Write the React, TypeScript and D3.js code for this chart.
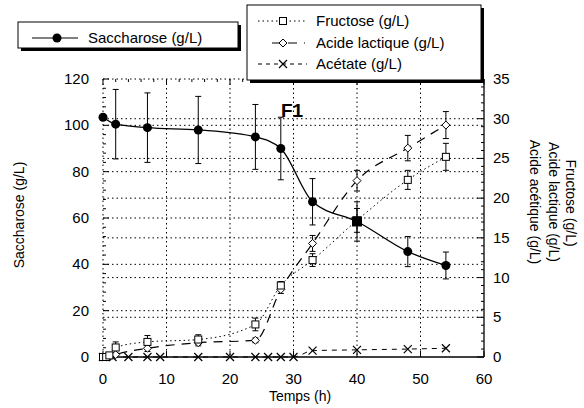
import React from 'react';
import * as d3 from 'd3';

// time (h) and values
const timeSac = [0, 2, 7, 15, 24, 28, 33, 40, 48, 54];
const saccharose = [103.5, 100.5, 99, 98, 95, 90, 67, 58.5, 45.5, 39.5];
const sacErr = [0, 15, 15, 14.5, 14, 13.5, 10, 8.5, 6.5, 5.8];

const timeFru = [0, 0.5, 1, 2, 7, 15, 24, 28, 33, 40, 48, 54];
const fructose = [0, 0, 0.2, 1.2, 1.9, 2.2, 4.1, 9, 12.2, 17.2, 22.3, 25.2];
const fruErr = [0, 0, 0, 0.7, 0.8, 0.6, 0.8, 0.5, 0.8, 1.5, 1.2, 1.7];

const timeLac = [0, 0.5, 1, 2, 7, 15, 24, 28, 33, 40, 48, 54];
const lactique = [0, 0, 0, 0.3, 1.1, 1.8, 2.1, 8.5, 14.3, 22.2, 26.3, 29.2];
const lacErr = [0, 0, 0, 0, 0.4, 0.4, 0.3, 0.5, 1.0, 1.3, 1.6, 1.7];

const timeAce = [0, 0.5, 1.5, 4, 7, 9, 15, 20, 24, 26, 28, 30, 33, 40, 48, 54];
const acetate = [0, 0, 0, 0, 0, 0, 0, 0, 0, 0, 0, 0, 0.8, 0.9, 1.0, 1.1];

const xTicks = [0, 10, 20, 30, 40, 50, 60];
const leftTicks = [0, 20, 40, 60, 80, 100, 120];
const rightTicks = [0, 5, 10, 15, 20, 25, 30, 35];

const font = '"Liberation Sans", Arial, Helvetica, sans-serif';

const W = 584;
const H = 408;
const m = { left: 103, right: 484, top: 79, bottom: 357 };

export default function App() {
  const x = d3.scaleLinear().domain([0, 60]).range([m.left, m.right]);
  const yL = d3.scaleLinear().domain([0, 120]).range([m.bottom, m.top]);
  const yR = d3.scaleLinear().domain([0, 35]).range([m.bottom, m.top]);

  const sacLine = d3
    .line<number>()
    .x((_, i) => x(timeSac[i]))
    .y((d) => yL(d))
    .curve(d3.curveMonotoneX)(saccharose);
  const fruLine = d3
    .line<number>()
    .x((_, i) => x(timeFru[i]))
    .y((d) => yR(d))
    .curve(d3.curveMonotoneX)(fructose);
  const lacLine = d3
    .line<number>()
    .x((_, i) => x(timeLac[i]))
    .y((d) => yR(d))
    .curve(d3.curveMonotoneX)(lactique);
  const aceLine = d3
    .line<number>()
    .x((_, i) => x(timeAce[i]))
    .y((d) => yR(d))
    .curve(d3.curveMonotoneX)(acetate);

  const errBar = (cx: number, y1: number, y2: number, key: string) => (
    <g key={key} stroke="#000" strokeWidth={1}>
      <line x1={cx} x2={cx} y1={y1} y2={y2} />
      <line x1={cx - 3} x2={cx + 3} y1={y1} y2={y1} />
      <line x1={cx - 3} x2={cx + 3} y1={y2} y2={y2} />
    </g>
  );

  const square = (cx: number, cy: number, key: string, filled = false) => (
    <rect key={key} x={cx - 3.5} y={cy - 3.5} width={7} height={7} fill={filled ? '#000' : '#fff'} stroke="#000" strokeWidth={1} />
  );
  const diamond = (cx: number, cy: number, key: string) => (
    <path key={key} d={`M${cx},${cy - 4}L${cx + 4},${cy}L${cx},${cy + 4}L${cx - 4},${cy}Z`} fill="#fff" stroke="#000" strokeWidth={1} />
  );
  const cross = (cx: number, cy: number, key: string) => (
    <path key={key} d={`M${cx - 4},${cy - 4}L${cx + 4},${cy + 4}M${cx - 4},${cy + 4}L${cx + 4},${cy - 4}`} stroke="#000" strokeWidth={1.2} />
  );

  const rightMinor = d3.range(0, 36, 1);
  const leftMinor = d3.range(0, 121, 4);
  const topMinor = d3.range(0, 61, 2);

  return (
    <svg width={W} height={H} style={{ display: 'block', position: 'absolute', left: 0, top: 0 }} fontFamily={font}>
      <rect width={W} height={H} fill="#fff" />

      {/* grid */}
      <g stroke="#000" strokeWidth={1} strokeDasharray="1.5,3">
        {xTicks.slice(1, -1).map((t) => (
          <line key={'gx' + t} x1={x(t)} x2={x(t)} y1={m.top} y2={m.bottom} />
        ))}
        {leftTicks.slice(1).map((t) => (
          <line key={'gl' + t} x1={m.left} x2={m.right} y1={yL(t)} y2={yL(t)} />
        ))}
        {rightTicks.slice(1, -1).map((t) => (
          <line key={'gr' + t} x1={m.left} x2={m.right} y1={yR(t)} y2={yR(t)} />
        ))}
        <line x1={m.left} x2={m.left} y1={m.top} y2={m.bottom} />
      </g>

      {/* axes frame */}
      <g stroke="#000" strokeWidth={1.3}>
        <line x1={m.left} x2={m.right} y1={m.bottom} y2={m.bottom} />
        <line x1={m.right} x2={m.right} y1={m.top} y2={m.bottom} />
      </g>
      <g stroke="#000" strokeWidth={1}>
        {rightMinor.map((t) => (
          <line key={'rm' + t} x1={m.right} x2={m.right - (t % 5 === 0 ? 7 : 3)} y1={yR(t)} y2={yR(t)} />
        ))}
        {leftMinor.map((t) => (
          <line key={'lm' + t} x1={m.left} x2={m.left + (t % 20 === 0 ? 6 : 3)} y1={yL(t)} y2={yL(t)} />
        ))}
        {topMinor.map((t) => (
          <line key={'tm' + t} x1={x(t)} x2={x(t)} y1={m.top} y2={m.top + (t % 10 === 0 ? 6 : 3)} />
        ))}
        {xTicks.map((t) => (
          <line key={'bt' + t} x1={x(t)} x2={x(t)} y1={m.bottom} y2={m.bottom - 6} />
        ))}
      </g>

      {/* tick labels */}
      <g fontSize={15} fill="#000">
        {leftTicks.map((t) => (
          <text key={'ll' + t} x={89} y={yL(t) + 5} textAnchor="end">{t}</text>
        ))}
        {rightTicks.map((t) => (
          <text key={'rl' + t} x={493} y={yR(t) + 5} textAnchor="start">{t}</text>
        ))}
        {xTicks.map((t) => (
          <text key={'xl' + t} x={x(t)} y={384} textAnchor="middle">{t}</text>
        ))}
      </g>

      {/* axis titles */}
      <g fontSize={14} fill="#000">
        <text x={300} y={401} textAnchor="middle">Temps (h)</text>
        <text transform={`translate(24,215) rotate(-90)`} textAnchor="middle">Saccharose (g/L)</text>
        <text transform={`translate(566,203) rotate(90)`} textAnchor="middle">Fructose (g/L)</text>
        <text transform={`translate(549,202) rotate(90)`} textAnchor="middle">Acide lactique (g/L)</text>
        <text transform={`translate(530,202) rotate(90)`} textAnchor="middle">Acide acétique (g/L)</text>
      </g>

      {/* lines */}
      <path d={fruLine || ''} fill="none" stroke="#000" strokeWidth={1} strokeDasharray="1.5,3" />
      <path d={lacLine || ''} fill="none" stroke="#000" strokeWidth={1.2} strokeDasharray="9,7" />
      <path d={aceLine || ''} fill="none" stroke="#000" strokeWidth={1} strokeDasharray="5,5" />
      <path d={sacLine || ''} fill="none" stroke="#000" strokeWidth={1.3} />

      {/* error bars */}
      {timeSac.map((t, i) => (sacErr[i] > 0 ? errBar(x(t), yL(saccharose[i] + sacErr[i]), yL(saccharose[i] - sacErr[i]), 'se' + i) : null))}
      {timeFru.map((t, i) => (fruErr[i] > 0 ? errBar(x(t), yR(fructose[i] + fruErr[i]), yR(fructose[i] - fruErr[i]), 'fe' + i) : null))}
      {timeLac.map((t, i) => (lacErr[i] > 0 ? errBar(x(t), yR(lactique[i] + lacErr[i]), yR(lactique[i] - lacErr[i]), 'le' + i) : null))}

      {/* markers */}
      {timeAce.map((t, i) => cross(x(t), yR(acetate[i]), 'am' + i))}
      {timeLac.map((t, i) => diamond(x(t), yR(lactique[i]), 'lmk' + i))}
      {timeFru.map((t, i) => square(x(t), yR(fructose[i]), 'fm' + i, t === 40))}
      {timeSac.map((t, i) =>
        t === 40 ? (
          <rect key={'sm' + i} x={x(t) - 5} y={yL(saccharose[i]) - 5} width={10} height={10} fill="#000" />
        ) : (
          <circle key={'sm' + i} cx={x(t)} cy={yL(saccharose[i])} r={4.5} fill="#000" />
        )
      )}

      {/* F1 */}
      <text x={281} y={117} fontSize={19} fontWeight="bold" fill="#000">F1</text>

      {/* legend 1 */}
      <rect x={21} y={25} width={220} height={26} fill="#000" />
      <rect x={18} y={22} width={220} height={26} fill="#fff" stroke="#000" strokeWidth={1} />
      <line x1={32} x2={78} y1={38} y2={38} stroke="#000" strokeWidth={1.2} />
      <circle cx={57} cy={38} r={4.5} fill="#000" />
      <text x={88} y={43} fontSize={15} fill="#000">Saccharose (g/L)</text>

      {/* legend 2 */}
      <rect x={250} y={8} width={234} height={75} fill="#000" />
      <rect x={247} y={5} width={234} height={75} fill="#fff" stroke="#000" strokeWidth={1} />
      <line x1={258} x2={307} y1={21} y2={21} stroke="#000" strokeWidth={1} strokeDasharray="1.5,3" />
      {square(283, 21, 'lg-f')}
      <line x1={272} x2={305} y1={43} y2={43} stroke="#000" strokeWidth={1.2} strokeDasharray="9,7" />
      {diamond(283, 43, 'lg-l')}
      <line x1={258} x2={307} y1={64} y2={64} stroke="#000" strokeWidth={1} strokeDasharray="4,4" />
      {cross(283, 64, 'lg-a')}
      <g fontSize={15} fill="#000">
        <text x={316} y={26}>Fructose (g/L)</text>
        <text x={316} y={48}>Acide lactique (g/L)</text>
        <text x={316} y={69}>Acétate (g/L)</text>
      </g>
    </svg>
  );
}
